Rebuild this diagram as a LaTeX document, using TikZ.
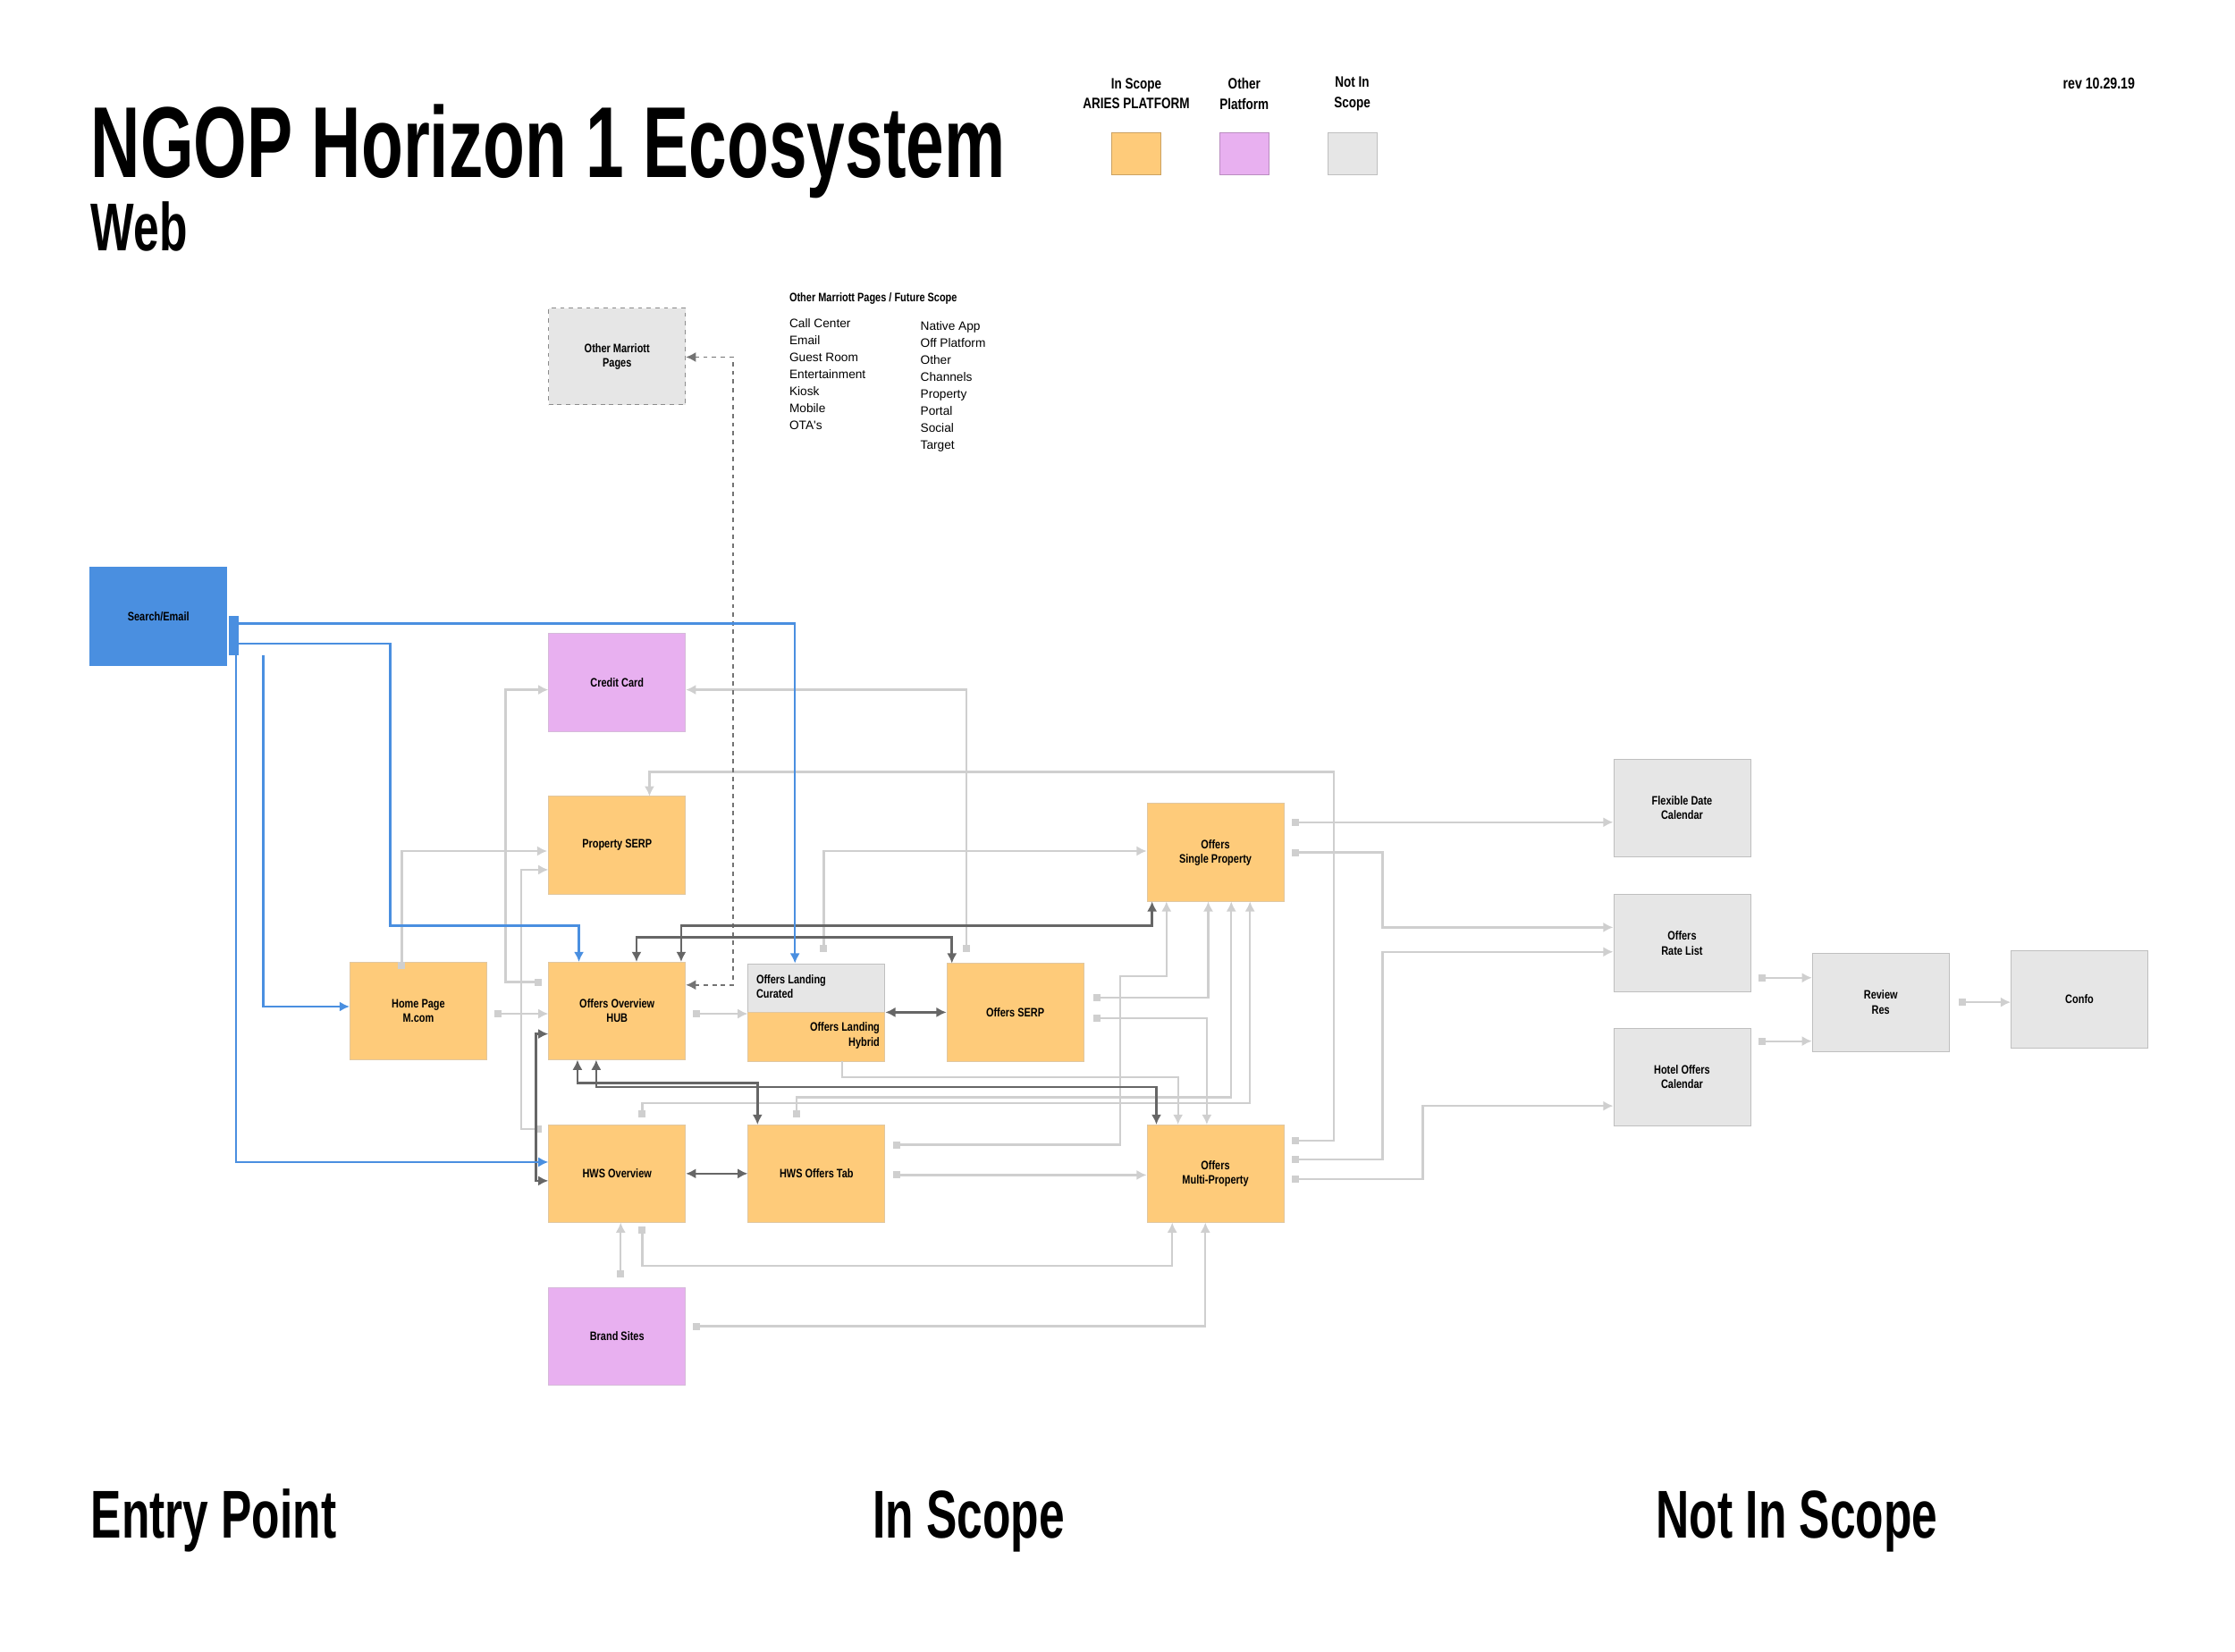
\documentclass[tikz,border=0pt]{standalone}
\usepackage{fontspec}
\setmainfont{Liberation Sans}[FakeStretch=0.8]
\newfontfamily\plain{Liberation Sans}
\newfontfamily\cond{Liberation Sans}[FakeStretch=0.68]
\usetikzlibrary{arrows.meta}
\definecolor{org}{HTML}{FECB7A}
\definecolor{pnk}{HTML}{E8B0F0}
\definecolor{gry}{HTML}{E6E6E6}
\definecolor{blu}{HTML}{4A8FE0}
\definecolor{lg}{HTML}{CFCFCF}
\definecolor{dg}{HTML}{666666}
\begin{document}
\begin{tikzpicture}[x=1pt,y=1pt,
 box/.style={draw=#1!80!black!60,fill=#1,minimum width=95pt,minimum height=68pt,inner sep=1pt,align=center,font=\bfseries\fontsize{8.5}{10}\selectfont,line width=0.5pt},
 g/.style={draw=lg,line width=1.4pt,-{Latex[length=7pt,width=7pt]},{Square[length=5pt,width=5pt]}-{Latex[length=7pt,width=7pt]}},
 gd/.style={draw=dg,line width=1.6pt,{Latex[length=7pt,width=7pt]}-{Latex[length=7pt,width=7pt]}},
 bl/.style={draw=blu,line width=1.6pt,-{Latex[length=7pt,width=7pt]}},
 big/.style={font=\cond\bfseries\fontsize{47}{50}\selectfont,anchor=base west,inner sep=0}]
\useasboundingbox (0,0) rectangle (1552,-1147);
% titles
\node[anchor=base west,inner sep=0,font=\cond\bfseries\fontsize{70}{74}\selectfont] (title) at (63,-123) {NGOP Horizon 1 Ecosystem};
\node[big] (web) at (63,-174) {Web};
\node[big] (ep) at (63,-1068) {Entry Point};
\node[big] (is) at (606,-1068) {In Scope};
\node[big] (nis) at (1150,-1068) {Not In Scope};
\node[font=\bfseries\fontsize{11}{12}\selectfont,anchor=east] (rev) at (1486,-58) {rev 10.29.19};
% legend
\node[fill=org,draw=org!80!black,minimum width=34pt,minimum height=29pt,inner sep=0] (l1) at (789,-106.5) {};
\node[fill=pnk,draw=pnk!80!black,minimum width=34pt,minimum height=29pt,inner sep=0] (l2) at (864,-106.5) {};
\node[fill=gry,draw=black!25,minimum width=34pt,minimum height=29pt,inner sep=0] (l3) at (939,-106.5) {};
\node[align=center,font=\bfseries\fontsize{10.5}{14}\selectfont] (t1) at (789,-65) {In Scope\\ARIES PLATFORM};
\node[align=center,font=\bfseries\fontsize{10.5}{14}\selectfont] (t2) at (864,-65) {Other\\Platform};
\node[align=center,font=\bfseries\fontsize{10.5}{14}\selectfont] (t3) at (939,-65) {Not In\\Scope};
% future scope text
\node[anchor=north west,inner sep=0,font=\bfseries\fontsize{8.5}{10}\selectfont] (fs) at (548,-203) {Other Marriott Pages / Future Scope};
\node[anchor=north west,inner sep=0,align=left,font=\plain\fontsize{8.5}{11.8}\selectfont] (c1) at (548,-221) {Call Center\\Email\\Guest Room\\Entertainment\\Kiosk\\Mobile\\OTA's};
\node[anchor=north west,inner sep=0,align=left,font=\plain\fontsize{8.5}{11.8}\selectfont] (c2) at (639,-223) {Native App\\Off Platform\\Other\\Channels\\Property\\Portal\\Social\\Target};
% nodes
\node[box=blu,draw=blu] (se) at (110,-428) {Search/Email};
\node[fill=blu,minimum width=7pt,minimum height=27pt,inner sep=0] (bar) at (162.5,-441.5) {};
\node[box=gry,draw=black!45,dashed,minimum height=67pt] (omp) at (428.5,-247.5) {Other Marriott\\Pages};
\node[box=pnk] (cc) at (428.5,-474) {Credit Card};
\node[box=org] (ps) at (428.5,-587) {Property SERP};
\node[box=org] (home) at (290.5,-702) {Home Page\\M.com};
\node[box=org] (hub) at (428.5,-702) {Offers Overview\\HUB};
\node[box=gry,draw=black!25,minimum height=34pt,anchor=north] (olc) at (567,-669) {};
\node[box=org,minimum height=34pt,anchor=north] (olh) at (567,-703) {};
\node[font=\bfseries\fontsize{8.5}{10}\selectfont,align=left,anchor=north west,inner sep=0] (olct) at (525,-677) {Offers Landing\\Curated};
\node[font=\bfseries\fontsize{8.5}{10}\selectfont,align=right,anchor=north east,inner sep=0] (olht) at (611,-710) {Offers Landing\\Hybrid};
\node[box=org] (serp) at (705,-703) {Offers SERP};
\node[box=org] (osp) at (844,-592) {Offers\\Single Property};
\node[box=org] (hwso) at (428.5,-815) {HWS Overview};
\node[box=org] (hwst) at (567,-815) {HWS Offers Tab};
\node[box=org] (omp2) at (844,-815) {Offers\\Multi-Property};
\node[box=pnk] (brand) at (428.5,-928) {Brand Sites};
\node[box=gry,draw=black!25] (fdc) at (1168,-561) {Flexible Date\\Calendar};
\node[box=gry,draw=black!25] (orl) at (1168,-655) {Offers\\Rate List};
\node[box=gry,draw=black!25] (hoc) at (1168,-748) {Hotel Offers\\Calendar};
\node[box=gry,draw=black!25] (rr) at (1306,-696) {Review\\Res};
\node[box=gry,draw=black!25] (confo) at (1444,-694) {Confo};
% light gray connectors
\draw[g] (home.north -| 279,0) ++(0,-5) |- (380,-591);
\draw[g] (home.east |- 0,-704) ++(5,0) -- (hub.west |- 0,-704);
\draw[g] (hub.east |- 0,-704) ++(5,0) -- (olc.west |- 0,-704);
\draw[g] (572,-661) |- (osp.west |- 0,-591);
\draw[g] (671,-661) |- (cc.east |- 0,-479);
\draw[g] (376,-682) -| (351,-479) -- (cc.west |- 0,-479);
\draw[g] (376,-784) -| (362,-604) -- (ps.west |- 0,-604);
\draw[g] (897,-571) -- (fdc.west |- 0,-571);
\draw[g] (897,-592) -| (960,-644) -- (orl.west |- 0,-644);
\draw[g] (897,-792) -| (926,-536) -| (451,-553);
\draw[g] (897,-805) -| (960,-661) -- (orl.west |- 0,-661);
\draw[g] (897,-819) -| (988,-768) -- (hoc.west |- 0,-768);
\draw[g] (1221,-679) -- (rr.west |- 0,-679);
\draw[g] (1221,-723) -- (rr.west |- 0,-723);
\draw[g] (1360,-696) -- (confo.west |- 0,-696);
\draw[g] (759,-693) -| (839,-626);
\draw[g] (759,-707) -| (838,-781);
\draw[g] (620,-795) -| (778,-678) -| (810,-626);
\draw[g] (620,-816) -- (omp2.west |- 0,-816);
\draw[g] (446,-776) |- (868,-766) -- (868,-626);
\draw[g] (553,-776) |- (855,-762) -- (855,-626);
\draw[g,{Square[length=0pt,width=0pt]}-{Latex[length=7pt,width=7pt]}] (585,-737) |- (818,-748) -- (818,-781);
\draw[g] (446,-852) |- (814,-879) -- (814,-849);
\draw[g] (431,-887) -- (431,-849);
\draw[g] (481,-921) -| (837,-849);
\draw[draw=black!55,line width=1.2pt,dashed,{Latex[length=7pt,width=7pt]}-{Latex[length=7pt,width=7pt]}] (hub.east |- 0,-684) -| (509,-248) -- (omp.east |- 0,-248);
% dark connectors
\draw[gd] (442,-668) |- (661,-651) -- (661,-669);
\draw[gd] (473,-668) |- (800,-643) -- (800,-626);
\draw[gd] (olh.east |- 0,-703) -- (serp.west |- 0,-703);
\draw[gd] (hwso.east |- 0,-815) -- (hwst.west);
\draw[gd] (401,-736) |- (526,-752) -- (526,-781);
\draw[gd] (414,-736) |- (803,-755) -- (803,-781);
\draw[gd] (hub.west |- 0,-718) -| (372,-820) -- (hwso.west |- 0,-820);
% blue connectors
\draw[bl] (166,-433) -| (552,-669);
\draw[bl] (166,-447) -| (271,-643) -| (402,-668);
\draw[bl] (183,-455) |- (home.west |- 0,-699);
\draw[bl] (164,-455) |- (hwso.west |- 0,-807);
\end{tikzpicture}
\end{document}
